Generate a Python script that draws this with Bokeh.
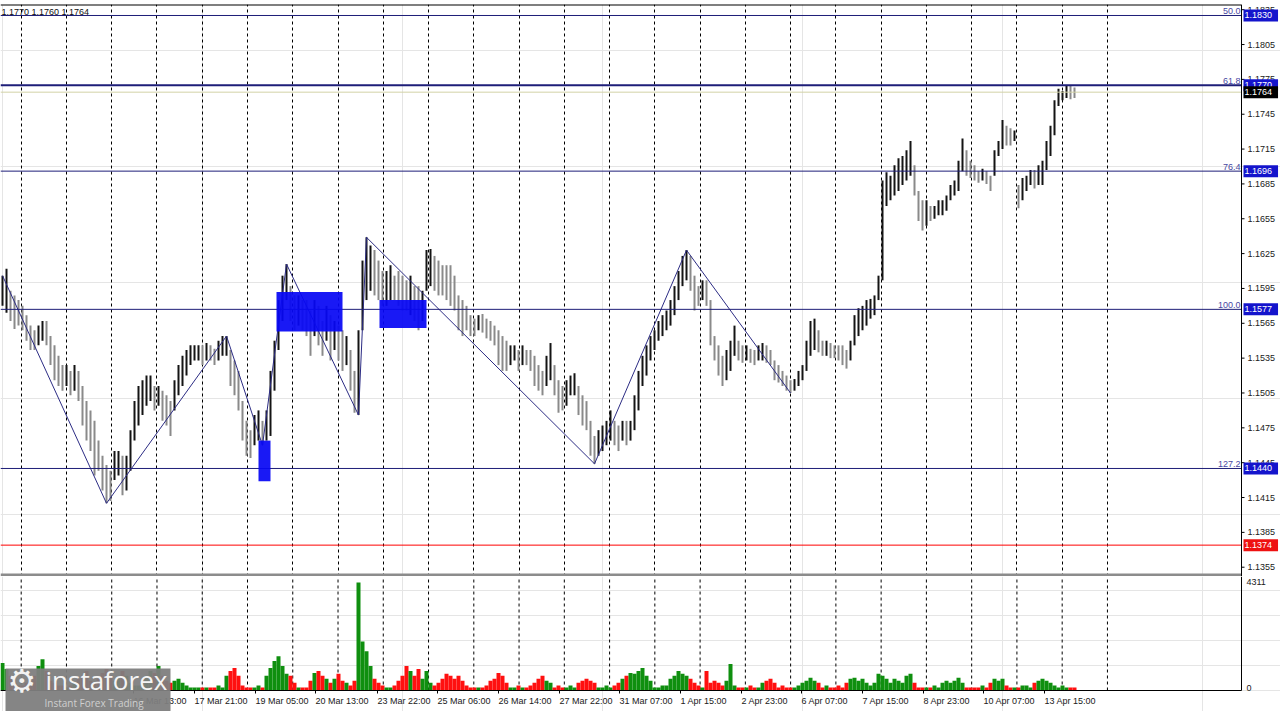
import math
from bokeh.plotting import figure
from bokeh.models import (ColumnDataSource, Range1d, FixedTicker, Grid, Label, BoxAnnotation)
from bokeh.layouts import column
from bokeh.embed import file_html
from bokeh.resources import INLINE

# ---------------- data (EURUSD H1, each entry ~2 hourly bars) ----------------
highs = [
    1.1606, 1.1612, 1.1593, 1.1589, 1.1585, 1.1580, 1.1572, 1.1563, 1.1559, 1.1563,
    1.1567, 1.1567, 1.1554, 1.1546, 1.1537, 1.1529, 1.1529, 1.1524, 1.1529, 1.1524,
    1.1511, 1.1498, 1.1490, 1.1481, 1.1464, 1.1451, 1.1443, 1.1438, 1.1455, 1.1455,
    1.1451, 1.1451, 1.1473, 1.1498, 1.1511, 1.1516, 1.1520, 1.1520, 1.1511, 1.1511,
    1.1507, 1.1503, 1.1498, 1.1516, 1.1529, 1.1537, 1.1542, 1.1546, 1.1546, 1.1546,
    1.1546, 1.1548, 1.1546, 1.1543, 1.1550, 1.1554, 1.1554, 1.1542, 1.1533, 1.1524,
    1.1498, 1.1481, 1.1473, 1.1486, 1.1490, 1.1481, 1.1490, 1.1524, 1.1550, 1.1585,
    1.1606, 1.1616, 1.1597, 1.1589, 1.1589, 1.1585, 1.1585, 1.1576, 1.1585, 1.1580,
    1.1567, 1.1580, 1.1572, 1.1567, 1.1563, 1.1559, 1.1554, 1.1542, 1.1524, 1.1559,
    1.1619, 1.1639, 1.1632, 1.1628, 1.1619, 1.1610, 1.1610, 1.1615, 1.1606, 1.1610,
    1.1606, 1.1602, 1.1606, 1.1597, 1.1597, 1.1593, 1.1628, 1.1629, 1.1623, 1.1619,
    1.1615, 1.1615, 1.1615, 1.1606, 1.1589, 1.1585, 1.1580, 1.1572, 1.1569, 1.1572,
    1.1573, 1.1569, 1.1567, 1.1563, 1.1559, 1.1554, 1.1550, 1.1546, 1.1546, 1.1542,
    1.1546, 1.1542, 1.1542, 1.1537, 1.1529, 1.1524, 1.1537, 1.1548, 1.1529, 1.1516,
    1.1511, 1.1516, 1.1520, 1.1522, 1.1511, 1.1503, 1.1498, 1.1481, 1.1468, 1.1473,
    1.1477, 1.1481, 1.1490, 1.1481, 1.1477, 1.1481, 1.1481, 1.1481, 1.1503, 1.1524,
    1.1537, 1.1546, 1.1554, 1.1559, 1.1567, 1.1572, 1.1576, 1.1585, 1.1597, 1.1610,
    1.1623, 1.1628, 1.1623, 1.1606, 1.1597, 1.1602, 1.1602, 1.1585, 1.1554, 1.1546,
    1.1537, 1.1542, 1.1550, 1.1563, 1.1550, 1.1546, 1.1546, 1.1543, 1.1542, 1.1546,
    1.1548, 1.1546, 1.1542, 1.1533, 1.1529, 1.1524, 1.1520, 1.1516, 1.1517, 1.1524,
    1.1529, 1.1550, 1.1567, 1.1569, 1.1559, 1.1550, 1.1550, 1.1548, 1.1546, 1.1546,
    1.1546, 1.1542, 1.1550, 1.1572, 1.1578, 1.1580, 1.1585, 1.1586, 1.1589, 1.1606,
    1.1688, 1.1695, 1.1692, 1.1701, 1.1707, 1.1709, 1.1714, 1.1722, 1.1701, 1.1679,
    1.1671, 1.1671, 1.1666, 1.1666, 1.1671, 1.1671, 1.1675, 1.1684, 1.1688, 1.1705,
    1.1724, 1.1714, 1.1705, 1.1701, 1.1696, 1.1698, 1.1696, 1.1692, 1.1714, 1.1722,
    1.1740, 1.1735, 1.1733, 1.1731, 1.1684, 1.1690, 1.1692, 1.1697, 1.1697, 1.1701,
    1.1705, 1.1722, 1.1735, 1.1757, 1.1767, 1.1765, 1.1770, 1.1770, 1.1768,
]
lows = [
    1.1580, 1.1574, 1.1567, 1.1560, 1.1563, 1.1559, 1.1550, 1.1542, 1.1542, 1.1546,
    1.1550, 1.1546, 1.1529, 1.1516, 1.1511, 1.1507, 1.1511, 1.1503, 1.1507, 1.1498,
    1.1477, 1.1464, 1.1455, 1.1434, 1.1438, 1.1421, 1.1410, 1.1412, 1.1430, 1.1434,
    1.1417, 1.1421, 1.1438, 1.1464, 1.1477, 1.1486, 1.1494, 1.1498, 1.1490, 1.1494,
    1.1481, 1.1477, 1.1468, 1.1490, 1.1503, 1.1511, 1.1520, 1.1529, 1.1533, 1.1533,
    1.1529, 1.1533, 1.1533, 1.1529, 1.1533, 1.1537, 1.1537, 1.1511, 1.1503, 1.1490,
    1.1464, 1.1451, 1.1449, 1.1460, 1.1464, 1.1460, 1.1464, 1.1468, 1.1507, 1.1542,
    1.1567, 1.1585, 1.1567, 1.1559, 1.1563, 1.1559, 1.1554, 1.1537, 1.1554, 1.1546,
    1.1537, 1.1550, 1.1533, 1.1542, 1.1533, 1.1524, 1.1529, 1.1507, 1.1488, 1.1486,
    1.1559, 1.1585, 1.1593, 1.1589, 1.1585, 1.1580, 1.1580, 1.1585, 1.1585, 1.1580,
    1.1576, 1.1576, 1.1572, 1.1567, 1.1559, 1.1567, 1.1593, 1.1597, 1.1593, 1.1589,
    1.1589, 1.1585, 1.1580, 1.1576, 1.1559, 1.1554, 1.1559, 1.1554, 1.1554, 1.1559,
    1.1557, 1.1552, 1.1550, 1.1546, 1.1529, 1.1524, 1.1524, 1.1529, 1.1533, 1.1524,
    1.1529, 1.1529, 1.1524, 1.1511, 1.1507, 1.1503, 1.1511, 1.1516, 1.1503, 1.1488,
    1.1490, 1.1494, 1.1503, 1.1503, 1.1486, 1.1477, 1.1473, 1.1451, 1.1444, 1.1451,
    1.1455, 1.1460, 1.1464, 1.1460, 1.1455, 1.1464, 1.1460, 1.1464, 1.1473, 1.1490,
    1.1511, 1.1520, 1.1533, 1.1542, 1.1550, 1.1554, 1.1559, 1.1563, 1.1572, 1.1585,
    1.1597, 1.1602, 1.1593, 1.1576, 1.1580, 1.1585, 1.1580, 1.1546, 1.1533, 1.1520,
    1.1511, 1.1516, 1.1524, 1.1537, 1.1533, 1.1531, 1.1533, 1.1531, 1.1529, 1.1533,
    1.1533, 1.1531, 1.1529, 1.1516, 1.1514, 1.1511, 1.1507, 1.1505, 1.1507, 1.1511,
    1.1516, 1.1524, 1.1537, 1.1542, 1.1540, 1.1537, 1.1537, 1.1535, 1.1535, 1.1533,
    1.1529, 1.1526, 1.1533, 1.1546, 1.1554, 1.1559, 1.1563, 1.1569, 1.1572, 1.1585,
    1.1602, 1.1666, 1.1671, 1.1675, 1.1679, 1.1684, 1.1688, 1.1692, 1.1675, 1.1653,
    1.1645, 1.1649, 1.1653, 1.1655, 1.1658, 1.1658, 1.1662, 1.1671, 1.1675, 1.1679,
    1.1696, 1.1692, 1.1690, 1.1688, 1.1686, 1.1688, 1.1685, 1.1679, 1.1692, 1.1709,
    1.1715, 1.1718, 1.1718, 1.1722, 1.1664, 1.1671, 1.1679, 1.1684, 1.1681, 1.1684,
    1.1684, 1.1697, 1.1709, 1.1727, 1.1752, 1.1757, 1.1759, 1.1758, 1.1759,
]
volumes = [
    1100, 860, 590, 310, 200, 200, 310, 390, 590, 980,
    1250, 780, 390, 310, 200, 200, 120, 200, 310, 470,
    590, 780, 390, 310, 470, 700, 860, 590, 390, 470,
    780, 590, 310, 200, 200, 310, 590, 780, 700, 980,
    590, 390, 310, 390, 470, 310, 200, 120, 120, 120,
    120, 120, 120, 120, 200, 120, 590, 780, 900, 590,
    200, 120, 120, 120, 200, 120, 590, 900, 1180, 1370,
    980, 670, 590, 310, 120, 120, 120, 390, 700, 780,
    590, 470, 310, 470, 670, 390, 310, 200, 390, 4311,
    1960, 1570, 980, 470, 310, 200, 120, 120, 200, 390,
    590, 980, 780, 590, 860, 470, 780, 310, 200, 310,
    470, 670, 590, 470, 590, 390, 200, 120, 120, 120,
    120, 200, 390, 470, 700, 590, 310, 120, 120, 200,
    120, 120, 200, 310, 470, 590, 390, 310, 120, 200,
    120, 120, 200, 120, 310, 390, 470, 390, 310, 120,
    120, 200, 120, 200, 310, 470, 590, 700, 670, 780,
    900, 590, 390, 120, 120, 200, 200, 470, 590, 780,
    670, 590, 470, 310, 200, 120, 780, 310, 390, 310,
    200, 390, 1060, 200, 120, 120, 120, 200, 120, 120,
    310, 390, 470, 310, 120, 200, 120, 120, 120, 200,
    310, 390, 510, 390, 310, 120, 200, 120, 120, 200,
    120, 310, 470, 510, 390, 470, 310, 200, 310, 670,
    590, 470, 310, 470, 390, 310, 590, 670, 310, 120,
    120, 120, 120, 200, 120, 310, 390, 310, 390, 510,
    310, 120, 120, 120, 120, 200, 120, 310, 470, 390,
    470, 200, 120, 120, 120, 200, 200, 120, 310, 390,
    470, 390, 310, 200, 120, 200, 120, 120, 120,
]

# zigzag pivots (bar index, price)
zz_idx = [0, 26, 56, 65, 71, 89, 91, 148, 171, 197]
zz_price = [1.1606, 1.1410, 1.1554, 1.1460, 1.1616, 1.1486, 1.1639, 1.1444, 1.1628, 1.1505]

# highlighted zones (bar index span, price span)
zone_left = [68.5, 94.25, 64.0]
zone_right = [85.0, 106.0, 67.0]
zone_top = [1.1592, 1.1585, 1.1464]
zone_bottom = [1.1558, 1.1561, 1.1429]

# Fibonacci levels
fib_levels = [1.1830, 1.1770, 1.1696, 1.1577, 1.1440]
fib_ratios = ["50.0", "61.8", "76.4", "100.0", "127.2"]
red_level = 1.1374
bid_price = 1.1764
ohlc_text = "1.1770 1.1760 1.1764"

price_ticks = [1.1355, 1.1385, 1.1415, 1.1445, 1.1475, 1.1505, 1.1535, 1.1565, 1.1595,
               1.1625, 1.1655, 1.1685, 1.1715, 1.1745, 1.1775, 1.1805, 1.1835]
vol_max = 4311

date_pos = [32.75, 48, 63.25, 78.25, 93.75, 108.75, 124, 139.25, 154.25,
            169.5, 184.75, 199.75, 215, 230.25, 245.25, 260.5]
date_text = ["16 Mar 13:00", "17 Mar 21:00", "19 Mar 05:00",
             "20 Mar 13:00", "23 Mar 22:00", "25 Mar 06:00", "26 Mar 14:00", "27 Mar 22:00",
             "31 Mar 07:00", "1 Apr 15:00", "2 Apr 23:00", "6 Apr 07:00", "7 Apr 15:00",
             "8 Apr 23:00", "10 Apr 07:00", "13 Apr 15:00"]

# ---------------- derived ----------------
n = len(highs)
idx = list(range(n))
mids = [(h + l) / 2 for h, l in zip(highs, lows)]
up = [True] + [mids[k] >= mids[k - 1] for k in range(1, n)]
bar_colors = ["#141414" if u else "#8a8a8a" for u in up]
vol_colors = ["#0f8f0f" if u else "#ff1010" for u in up]
src = ColumnDataSource(dict(i=idx, hi=highs, lo=lows, vol=volumes, bc=bar_colors, vc=vol_colors))

FONT = "Liberation Sans"
x_start, x_end = -0.5, 319.5      # full canvas width
x_ax = 309.75                     # price-scale position
xr = Range1d(x_start, x_end)
y_lo, y_hi = 1.134700, 1.183947
grid_ticks = [4.675 + 11.315 * k for k in range(25)]
LEVEL_COLOR = "#1e1e78"

# ---------------- price panel ----------------
p = figure(width=1280, height=576, x_range=xr, y_range=Range1d(y_lo, y_hi),
           output_backend="svg", toolbar_location=None, x_axis_location=None,
           y_axis_location=None, min_border=0, min_border_top=4, outline_line_color=None)
p.add_layout(Grid(dimension=0, ticker=FixedTicker(ticks=grid_ticks), grid_line_color="black",
                  grid_line_dash="3 3", grid_line_width=1))

# price bars, zigzag
p.segment(x0="i", y0="lo", x1="i", y1="hi", source=src, line_color="bc", line_width=2)
p.line(zz_idx, zz_price, line_color="#2c2c84", line_width=1)

# horizontal levels (stop at the price scale)
for lvl in fib_levels:
    p.segment(x0=x_start, y0=lvl, x1=x_ax, y1=lvl, line_color=LEVEL_COLOR,
              line_width=2 if lvl == 1.1770 else 1)
p.segment(x0=x_start, y0=bid_price, x1=x_ax, y1=bid_price, line_color="#d2d2a6", line_width=1)
p.segment(x0=x_start, y0=red_level, x1=x_ax, y1=red_level, line_color="#ff0000", line_width=1)

# zones on top
p.quad(left=zone_left, right=zone_right, top=zone_top, bottom=zone_bottom,
       fill_color="#0808f4", fill_alpha=0.93, line_color=None)

# frame borders, separator, price scale
p.segment(x0=x_start, y0=y_hi, x1=x_ax, y1=y_hi, line_color="black", line_width=2)
p.segment(x0=x_start, y0=y_lo, x1=x_ax, y1=y_lo, line_color="#8c8c8c", line_width=6)
p.segment(x0=x_ax, y0=y_lo, x1=x_ax, y1=y_hi, line_color="black", line_width=1)
p.ray(x=[x_ax] * len(price_ticks), y=price_ticks, length=3, angle=0, length_units="screen",
      line_color="black", line_width=1)
for t in price_ticks:
    p.add_layout(Label(x=x_ax, y=t, text="%.4f" % t, x_offset=6, text_align="left",
                       text_baseline="middle", text_font=FONT, text_font_size="9px",
                       text_color="#202020"))

for lvl, r in zip(fib_levels, fib_ratios):
    p.add_layout(Label(x=x_ax, y=lvl, text=r, x_offset=-1, y_offset=1, text_align="right",
                       text_baseline="bottom", text_font=FONT, text_font_size="9px",
                       text_color="#4848a2"))

boxes = [(1.1830, "#1414cc"), (1.1770, "#1414cc"), (1.1696, "#1414cc"),
         (1.1577, "#1414cc"), (1.1440, "#1414cc"), (red_level, "#ee1111"), (bid_price, "#000000")]
for lvl, bg in boxes:
    p.add_layout(Label(x=x_ax, y=lvl, text=" %.4f " % lvl, x_offset=2, text_align="left",
                       text_baseline="middle", text_font=FONT, text_font_size="9px",
                       text_color="white", background_fill_color=bg, padding=1))

p.add_layout(Label(x=1, y=570, x_units="screen", y_units="screen", text=ohlc_text,
                   text_align="left", text_baseline="top", text_font=FONT,
                   text_font_size="9px", text_color="#101010"))

# ---------------- volume panel ----------------
vol_lo, vol_hi = -838, 4550
q = figure(width=1280, height=135, x_range=xr, y_range=Range1d(vol_lo, vol_hi),
           output_backend="svg", toolbar_location=None, x_axis_location=None,
           y_axis_location=None, min_border=0, outline_line_color=None)
q.segment(x0=grid_ticks, y0=[0] * len(grid_ticks), x1=grid_ticks, y1=[vol_hi] * len(grid_ticks),
          line_color="black", line_dash="3 3", line_width=1)
q.vbar(x="i", top="vol", width=1.0, source=src, fill_color="vc", line_color=None)

q.segment(x0=x_start, y0=0, x1=x_ax, y1=0, line_color="black", line_width=1)
q.segment(x0=x_ax, y0=0, x1=x_ax, y1=vol_hi, line_color="black", line_width=1)
q.add_layout(Label(x=x_ax, y=vol_max, text=str(vol_max), x_offset=5, text_baseline="middle",
                   text_font=FONT, text_font_size="9px", text_color="#202020"))
q.add_layout(Label(x=x_ax, y=0, text="0", x_offset=5, text_baseline="bottom",
                   text_font=FONT, text_font_size="9px", text_color="#202020"))

q.ray(x=date_pos, y=[0] * len(date_pos), length=3, angle=-math.pi / 2, length_units="screen",
      line_color="black", line_width=1)
for pos, t in zip(date_pos, date_text):
    q.add_layout(Label(x=pos, y=0, text=t, y_offset=-5, text_align="left", text_baseline="top",
                       text_font=FONT, text_font_size="9px", text_color="#202020"))

# watermark logo
q.add_layout(BoxAnnotation(left=5, right=170, top=43, bottom=0, left_units="screen",
                           right_units="screen", top_units="screen", bottom_units="screen",
                           fill_color="#7e7e7e", fill_alpha=0.95, line_color=None))
q.add_layout(Label(x=7, y=12, x_units="screen", y_units="screen", text="\u2699",
                   text_font="DejaVu Sans", text_font_size="32px", text_color="#f2f2f2"))
q.add_layout(Label(x=45, y=14, x_units="screen", y_units="screen", text="instaforex",
                   text_font="Open Sans", text_font_size="26px", text_color="#f4f4f4"))
q.add_layout(Label(x=44, y=2, x_units="screen", y_units="screen", text="Instant Forex Trading",
                   text_font="Open Sans", text_font_size="10px", text_color="#cfcfcf"))

layout = column(p, q, spacing=0)
open("out.html", "w").write(file_html(layout, INLINE))
